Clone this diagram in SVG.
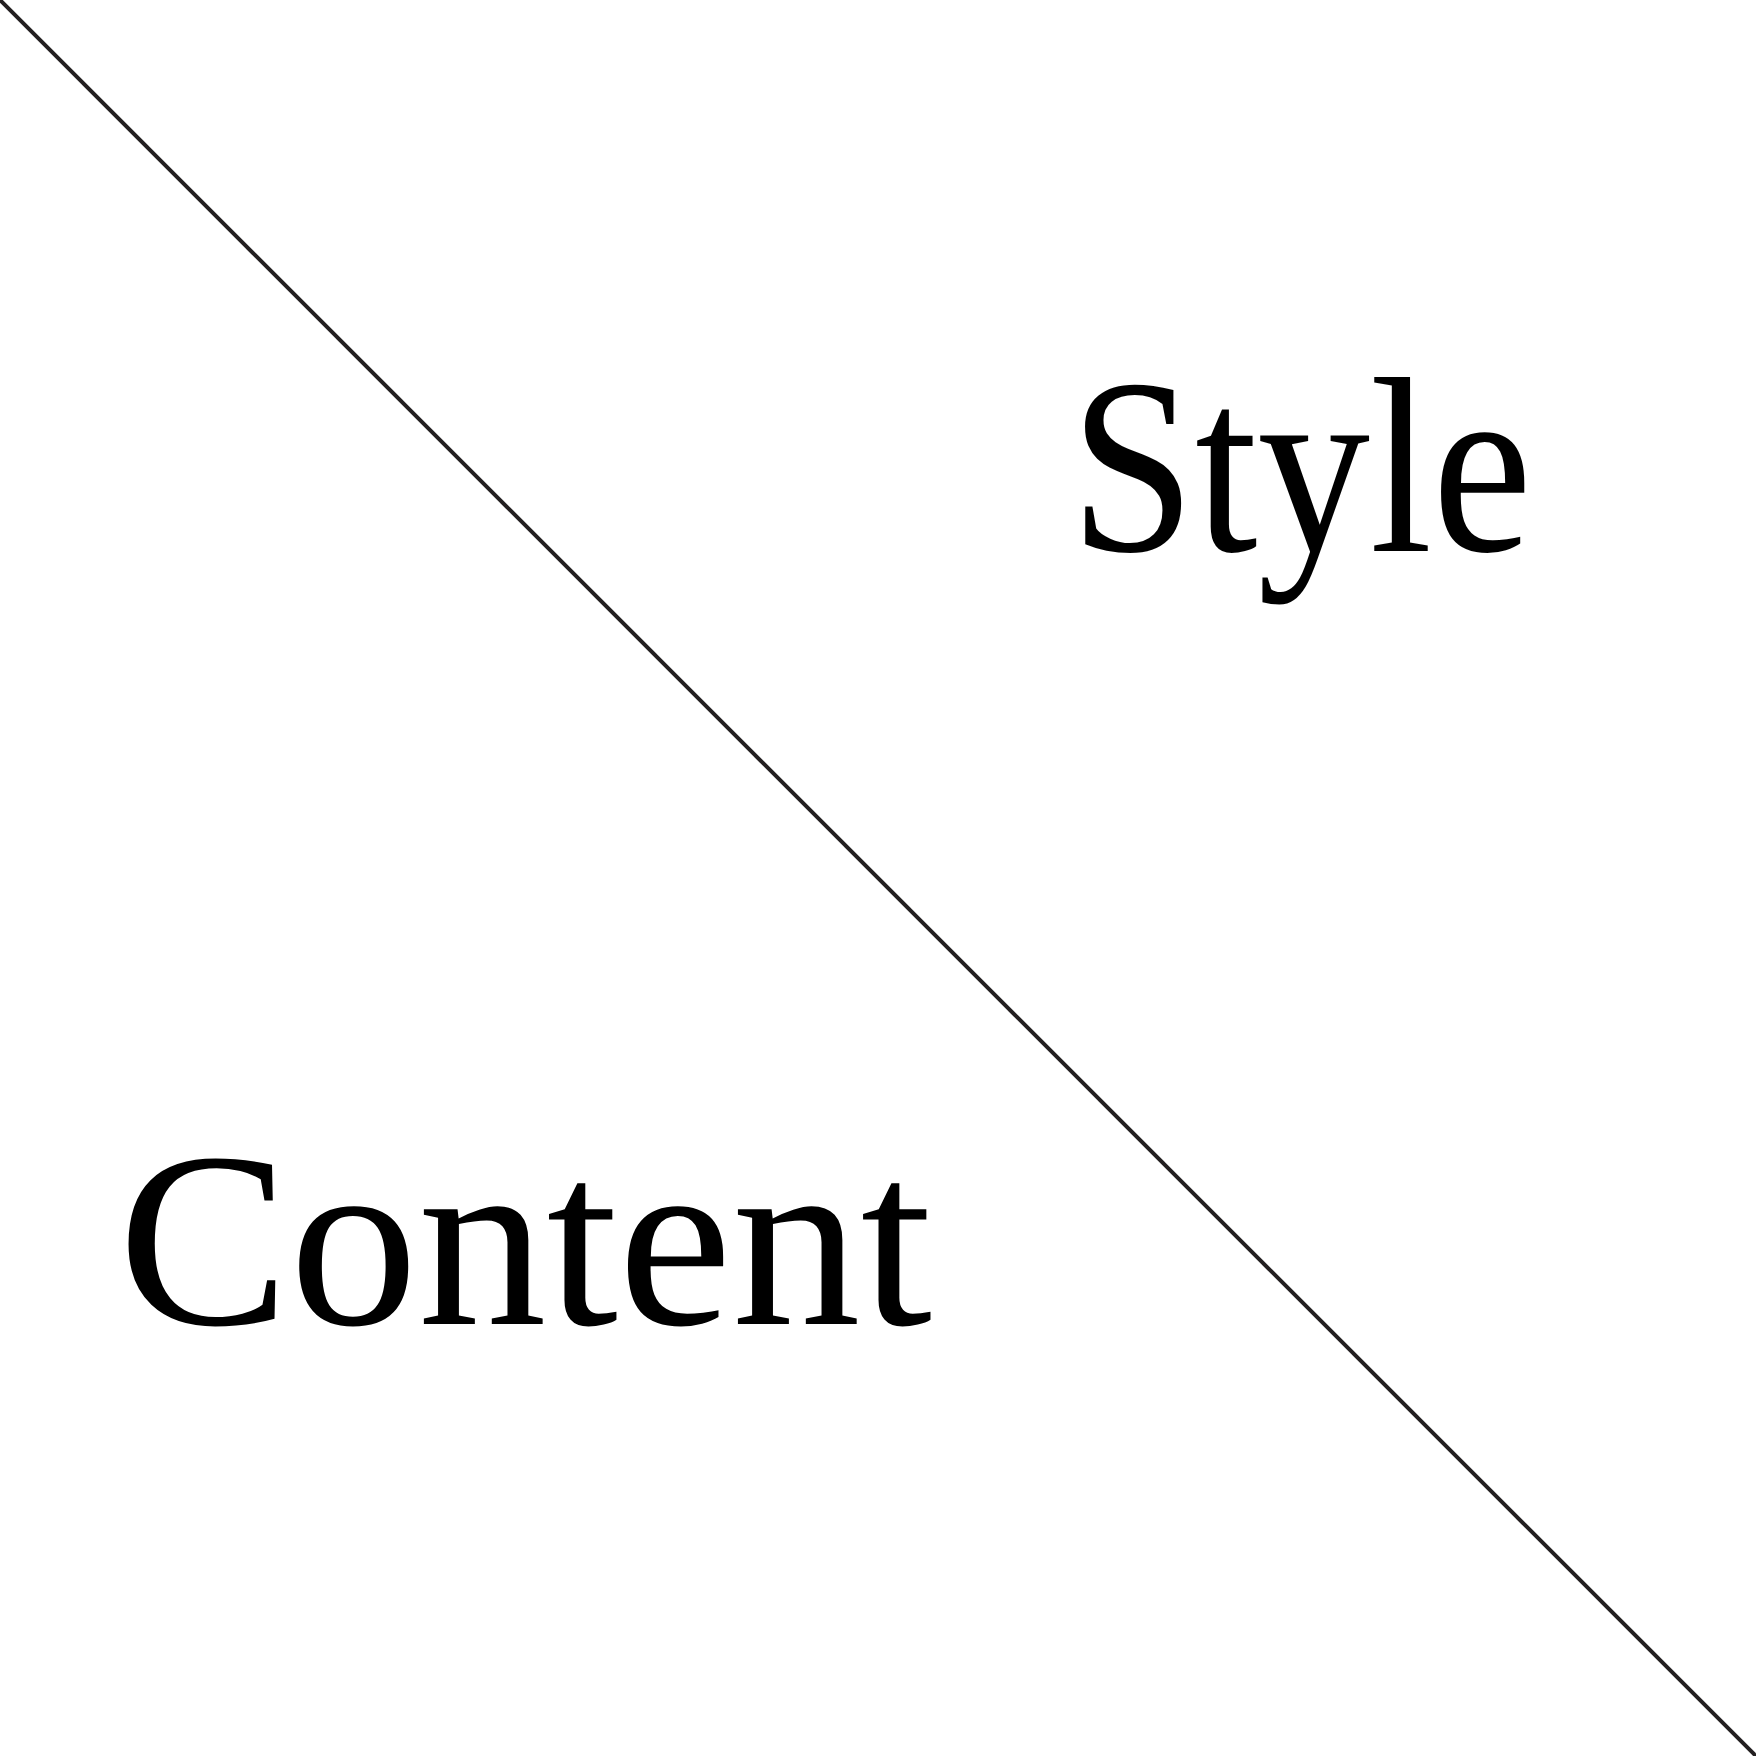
<svg xmlns="http://www.w3.org/2000/svg" width="1756" height="1756" viewBox="0 0 1756 1756">
<style>
.lbl{font-family:"Liberation Serif","DejaVu Serif",serif;font-size:250px;fill:#000}
</style>
<rect width="1756" height="1756" fill="#fff"/>
<g id="connectors">
<line x1="0" y1="0" x2="1756" y2="1756" stroke="#231f20" stroke-width="4"/>
</g>
<g id="style"><text class="lbl" x="1070" y="551" textLength="462" lengthAdjust="spacingAndGlyphs">Style</text></g>
<g id="content"><text class="lbl" x="118" y="1324" textLength="814" lengthAdjust="spacingAndGlyphs">Content</text></g>
</svg>
